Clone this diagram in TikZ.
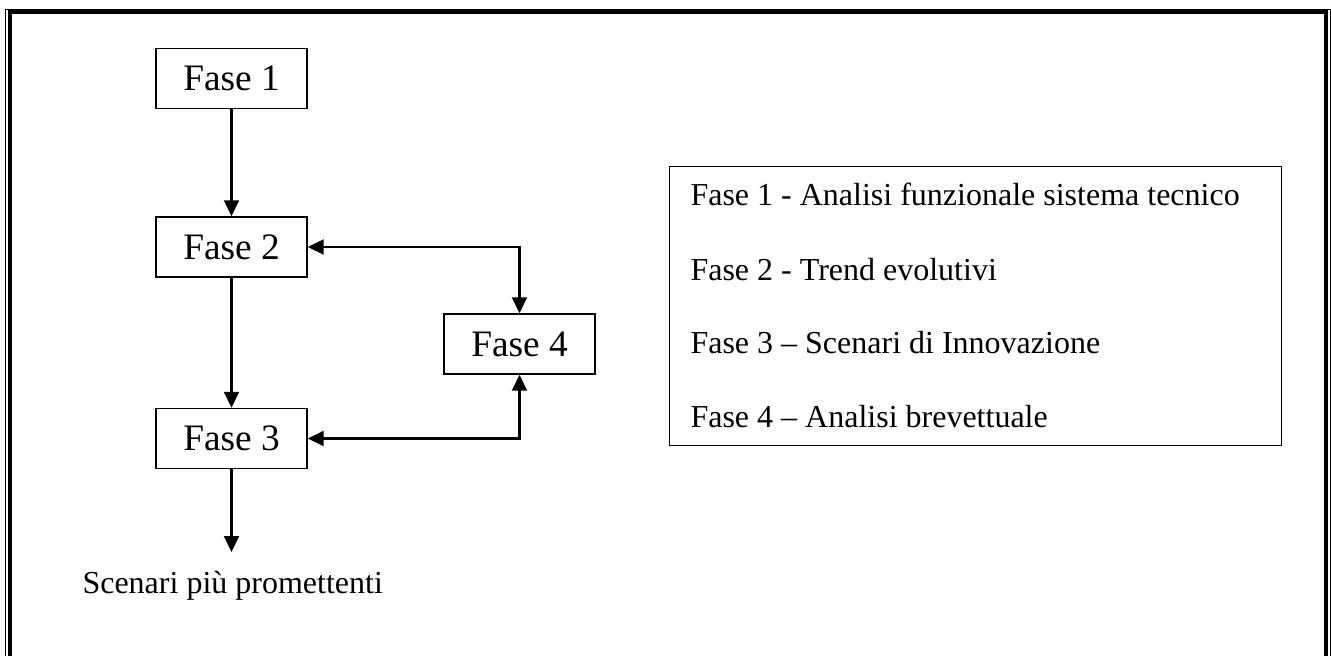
\documentclass[tikz,border=0pt]{standalone}
\usepackage{fontspec}
\setmainfont{Liberation Serif}
\usetikzlibrary{arrows.meta}
\tikzset{
  fasebox/.style={draw, line width=0.55pt, minimum width=151*0.375pt, minimum height=60*0.375pt, inner sep=0pt, font=\fontsize{14}{16}\selectfont},
  conn/.style={line width=0.85pt, -{Triangle[length=6pt,width=5.6pt]}},
  biconn/.style={line width=0.85pt, {Triangle[length=6pt,width=5.6pt]}-{Triangle[length=6pt,width=5.6pt]}},
  legtext/.style={anchor=base west, inner sep=0pt, font=\fontsize{12}{14}\selectfont},
}
\begin{document}
\begin{tikzpicture}[x=0.375pt,y=-0.375pt]
\useasboundingbox (0,0) rectangle (1331,656);
% page border
\draw[line width=0.35pt] (5.5,720) -- (5.5,9.5) -- (1330,9.5) -- (1330,720);
\draw[line width=1.5pt] (10,720) -- (10,12) -- (1325.5,12) -- (1325.5,720);
% boxes
\node[fasebox] (f1) at (231.5,78.5) {Fase 1};
\node[fasebox] (f2) at (231.5,247) {Fase 2};
\node[fasebox] (f3) at (231.5,438.5) {Fase 3};
\node[fasebox] (f4) at (519.5,344) {Fase 4};
\coordinate (endp) at (231.5,552);
\node[legtext] (out) at (82,593) {Scenari più promettenti};
% connectors
\draw[conn] (f1) -- (f2);
\draw[conn] (f2) -- (f3);
\draw[conn] (f3) -- (endp);
\draw[biconn] (f2.east) -| (f4.north);
\draw[biconn] (f3.east) -| (f4.south);
% legend
\node[draw, line width=0.55pt, anchor=north west, minimum width=(1281-669)*0.375pt, minimum height=(445-166)*0.375pt, inner sep=0pt] (leg) at (669,166) {};
\node[legtext] (l1) at (690,205) {Fase 1 - Analisi funzionale sistema tecnico};
\node[legtext] (l2) at (690,280) {Fase 2 - Trend evolutivi};
\node[legtext] (l3) at (690,353) {Fase 3 – Scenari di Innovazione};
\node[legtext] (l4) at (690,427) {Fase 4 – Analisi brevettuale};
\end{tikzpicture}
\end{document}
